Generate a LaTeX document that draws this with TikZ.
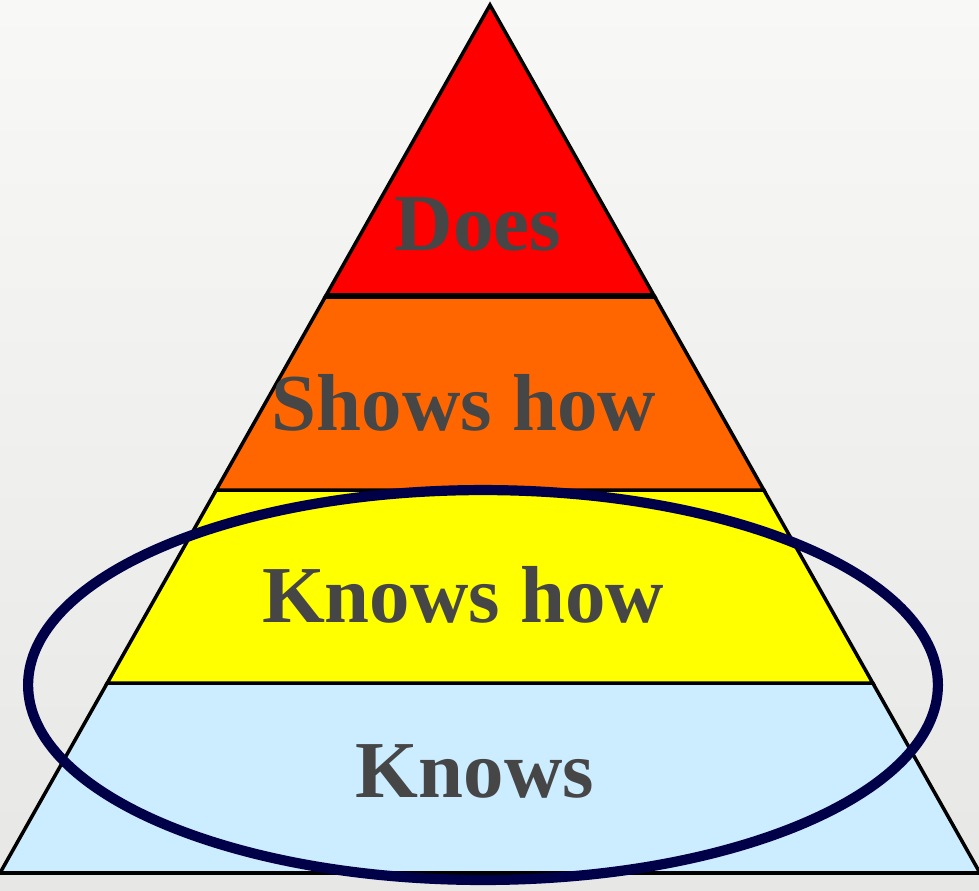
\documentclass[tikz,border=0pt]{standalone}
\usepackage{fontspec}
\setmainfont{Liberation Serif}
\usepackage{tikz}
\usetikzlibrary{positioning,calc}

\definecolor{bgtop}{RGB}{248,248,246}
\definecolor{bgbottom}{RGB}{231,231,229}
\definecolor{tierred}{RGB}{255,0,0}
\definecolor{tierorange}{RGB}{255,102,0}
\definecolor{tieryellow}{RGB}{255,255,0}
\definecolor{tierblue}{RGB}{204,236,255}
\definecolor{textgray}{RGB}{70,70,70}
\definecolor{ringnavy}{RGB}{0,0,72}

\begin{document}
\begin{tikzpicture}[
    x=0.02cm, y=-0.02cm,
    tier/.style={draw=black, line width=2pt, line join=miter},
    tiertext/.style={font=\fontsize{46}{50}\selectfont\bfseries, text=textgray, inner sep=0pt, anchor=base},
    ring/.style={draw=ringnavy, line width=5.8pt}
]
% background
\shade[top color=bgtop, bottom color=bgbottom] (0,0) rectangle (979,890);
\useasboundingbox (0,0) rectangle (979,890);

% pyramid corners and tier edges
\coordinate (apex) at (490,5);
\coordinate (bl) at (0,873);
\coordinate (br) at (980,873);
\coordinate (l1) at ($(apex)!0.3353!(bl)$);
\coordinate (r1) at ($(apex)!0.3353!(br)$);
\coordinate (l2) at ($(apex)!0.5588!(bl)$);
\coordinate (r2) at ($(apex)!0.5588!(br)$);
\coordinate (l3) at ($(apex)!0.7811!(bl)$);
\coordinate (r3) at ($(apex)!0.7811!(br)$);

% tiers
\draw[tier, fill=tierblue] (l3) -- (r3) -- (br) -- (bl) -- cycle;
\draw[tier, fill=tieryellow] (l2) -- (r2) -- (r3) -- (l3) -- cycle;
\draw[tier, fill=tierorange] (l1) -- (r1) -- (r2) -- (l2) -- cycle;
\draw[tier, fill=tierred] (apex) -- (r1) -- (l1) -- cycle;
\draw[line width=3pt] (l1) -- (r1);
\draw[line width=2.8pt] (bl) -- (br);

% labels
\node[tiertext] (does) at (478,250) {Does};
\node[tiertext] (shows) at (464,430) {Shows how};
\node[tiertext] (knowshow) at (463,622) {Knows how};
\node[tiertext] (knows) at (475,797) {Knows};

% ring round the two lower tiers
\draw[ring] (483,685) ellipse [x radius=9.1cm, y radius=3.9cm];
\end{tikzpicture}
\end{document}
